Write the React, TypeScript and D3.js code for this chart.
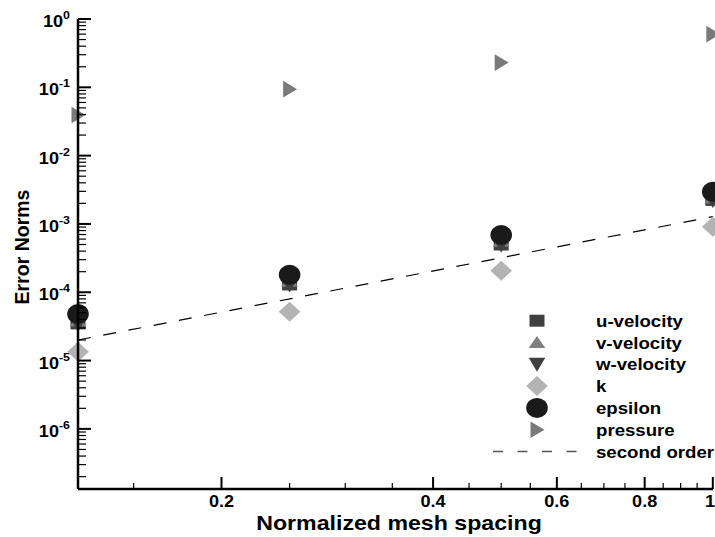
import React from "react";
import * as d3 from "d3";

const meshSpacing = [0.125, 0.25, 0.5, 1];
const uVelocity = [3.5e-5, 1.3e-4, 5.0e-4, 2.25e-3];
const vVelocity = [3.8e-5, 1.45e-4, 5.6e-4, 2.4e-3];
const wVelocity = [3.4e-5, 1.28e-4, 4.9e-4, 2.2e-3];
const kValues = [1.35e-5, 5.2e-5, 2.07e-4, 9.1e-4];
const epsilonValues = [4.8e-5, 1.8e-4, 6.9e-4, 2.95e-3];
const pressureValues = [0.0394, 0.094, 0.23, 0.6];
const secondOrderX = [0.125, 1];
const secondOrderY = [2e-5, 1.28e-3];

const xMajorTicks = [0.2, 0.4, 0.6, 0.8, 1];
const xMajorLabels = ["0.2", "0.4", "0.6", "0.8", "1"];
const xMinorTicks = [0.15, 0.25, 0.3, 0.35, 0.45, 0.5, 0.55, 0.65, 0.7, 0.75, 0.85, 0.9, 0.95];
const yMajorTicks = [1, 1e-1, 1e-2, 1e-3, 1e-4, 1e-5, 1e-6];
const yMajorExponents = ["0", "-1", "-2", "-3", "-4", "-5", "-6"];

const legendLabels = ["u-velocity", "v-velocity", "w-velocity", "k", "epsilon", "pressure", "second order"];

const W = 715;
const H = 537;
const FONT = "'Liberation Sans', Arial, Helvetica, sans-serif";
const SX = 1.13;

type Shape = "square" | "up" | "down" | "diamond" | "circle" | "right";

function markerPath(shape: Shape, cx: number, cy: number): string {
  if (shape === "circle") {
    const rx = 10.8, ry = 10;
    return `M${cx - rx},${cy}A${rx},${ry} 0 1,0 ${cx + rx},${cy}A${rx},${ry} 0 1,0 ${cx - rx},${cy}Z`;
  }
  const p = d3.path();
  if (shape === "square") {
    p.rect(cx - 7.5, cy - 6, 15, 12);
  } else if (shape === "up") {
    p.moveTo(cx, cy - 6.5);
    p.lineTo(cx + 8.3, cy + 5.5);
    p.lineTo(cx - 8.3, cy + 5.5);
    p.closePath();
  } else if (shape === "down") {
    p.moveTo(cx - 8.3, cy - 6.5);
    p.lineTo(cx + 8.3, cy - 6.5);
    p.lineTo(cx, cy + 7.5);
    p.closePath();
  } else if (shape === "diamond") {
    p.moveTo(cx, cy - 10);
    p.lineTo(cx + 10.8, cy);
    p.lineTo(cx, cy + 10);
    p.lineTo(cx - 10.8, cy);
    p.closePath();
  } else {
    p.moveTo(cx - 6.5, cy - 8.3);
    p.lineTo(cx + 7.5, cy);
    p.lineTo(cx - 6.5, cy + 8.3);
    p.closePath();
  }
  return p.toString();
}

export default function App() {
  const x = d3.scaleLog().domain([0.125, 1]).range([78, 712.8]);
  const y = d3.scaleLog().domain([1, Math.pow(10, -6.88)]).range([19, 489]);

  const yMinor = y.ticks().filter((t) => {
    const l = Math.log10(t);
    return Math.abs(l - Math.round(l)) > 1e-6;
  });

  const series: { values: number[]; shape: Shape; color: string }[] = [
    { values: uVelocity, shape: "square", color: "#3f3f3f" },
    { values: vVelocity, shape: "up", color: "#7f7f7f" },
    { values: wVelocity, shape: "down", color: "#404040" },
    { values: kValues, shape: "diamond", color: "#b3b3b3" },
    { values: epsilonValues, shape: "circle", color: "#1a1a1a" },
    { values: pressureValues, shape: "right", color: "#7a7a7a" },
  ];

  const line = d3
    .line<number>()
    .x((_, i) => x(secondOrderX[i]))
    .y((d) => y(d));

  const legX = 537;
  const legTextX = 596;
  const legY0 = 320.7;
  const legDy = 21.8;

  return (
    <svg
      width={W}
      height={H}
      style={{ position: "absolute", left: 0, top: 0, background: "#fff" }}
      fontFamily={FONT}
      fontWeight="bold"
    >
      <rect x={0} y={0} width={W} height={H} fill="#fff" />

      <path
        d={line(secondOrderY) || ""}
        fill="none"
        stroke="#000"
        strokeWidth={1.2}
        strokeDasharray="13,12.7"
      />

      {series.map((s, si) => (
        <g key={si}>
          {s.values.map((v, i) => (
            <path key={i} d={markerPath(s.shape, x(meshSpacing[i]), y(v))} fill={s.color} />
          ))}
        </g>
      ))}

      <line x1={78} y1={19} x2={78} y2={489} stroke="#000" strokeWidth={2.5} />
      <line x1={78} y1={489} x2={713} y2={489} stroke="#000" strokeWidth={2.5} />

      {yMajorTicks.map((t) => (
        <line key={"ym" + t} x1={78} x2={91} y1={y(t)} y2={y(t)} stroke="#000" strokeWidth={2} />
      ))}
      {yMinor.map((t) => (
        <line key={"yn" + t} x1={78} x2={86} y1={y(t)} y2={y(t)} stroke="#000" strokeWidth={1.2} />
      ))}
      {yMajorTicks.map((t, i) => (
        <text
          key={"yl" + t}
          transform={`translate(70,${y(t) + 8}) scale(${SX},1)`}
          textAnchor="end"
          fontSize={16}
          fill="#000"
        >
          10
          <tspan fontSize={11} dy={-8}>
            {yMajorExponents[i]}
          </tspan>
        </text>
      ))}

      {xMajorTicks.map((t) => (
        <line key={"xm" + t} x1={x(t)} x2={x(t)} y1={489} y2={477} stroke="#000" strokeWidth={2} />
      ))}
      {xMinorTicks.map((t) => (
        <line key={"xn" + t} x1={x(t)} x2={x(t)} y1={489} y2={483} stroke="#000" strokeWidth={1.2} />
      ))}
      {xMajorTicks.map((t, i) => (
        <text
          key={"xl" + t}
          transform={`translate(${Math.min(x(t), 710)},507) scale(${SX},1)`}
          textAnchor="middle"
          fontSize={16}
          fill="#000"
        >
          {xMajorLabels[i]}
        </text>
      ))}

      <text
        transform={`translate(399,530) scale(${SX},1)`}
        textAnchor="middle"
        fontSize={20.5}
        fill="#000"
      >
        Normalized mesh spacing
      </text>
      <text
        transform={`translate(29,247) rotate(-90)`}
        textAnchor="middle"
        fontSize={19.5}
        fill="#000"
      >
        Error Norms
      </text>

      {series.map((s, i) => (
        <path key={"lm" + i} d={markerPath(s.shape, legX, legY0 + i * legDy)} fill={s.color} />
      ))}
      <line
        x1={493}
        x2={580}
        y1={legY0 + 6 * legDy}
        y2={legY0 + 6 * legDy}
        stroke="#555"
        strokeWidth={1.5}
        strokeDasharray="10,14.5"
      />
      {legendLabels.map((l, i) => (
        <text
          key={"lt" + i}
          transform={`translate(${legTextX},${legY0 + i * legDy + 6}) scale(${SX},1)`}
          fontSize={16.5}
          fill="#000"
        >
          {l}
        </text>
      ))}
    </svg>
  );
}
